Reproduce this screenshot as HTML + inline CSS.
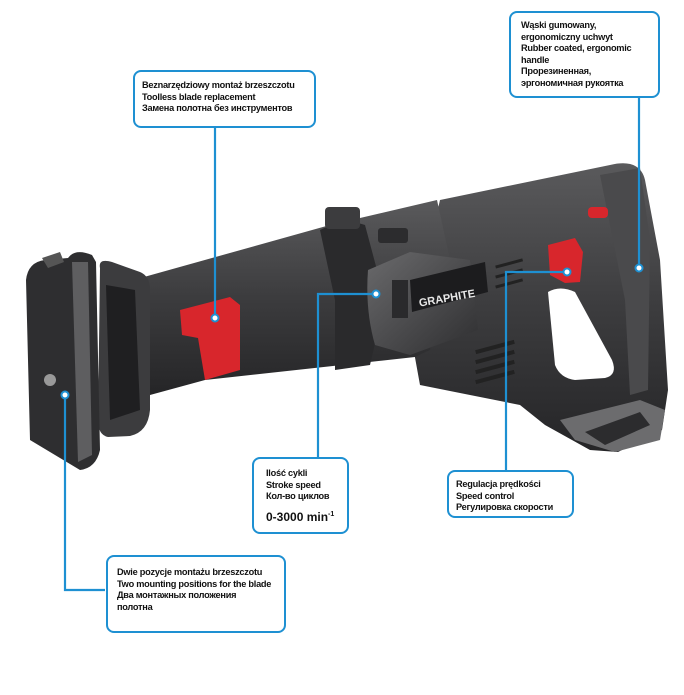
<!DOCTYPE html>
<html><head><meta charset="utf-8"><style>
html,body{margin:0;padding:0;background:#fff;}
body{width:684px;height:695px;position:relative;overflow:hidden;font-family:"Liberation Sans","DejaVu Sans",sans-serif;}
.box{position:absolute;border:2.5px solid #1e90d2;border-radius:8px;background:#fff;box-sizing:border-box;font-weight:bold;font-size:9.2px;letter-spacing:-0.25px;line-height:11.6px;color:#111;white-space:nowrap;}
svg{position:absolute;left:0;top:0;}
</style></head><body>
<svg width="684" height="695" viewBox="0 0 684 695">
<defs>
<linearGradient id="g1" x1="0" y1="0" x2="0" y2="1"><stop offset="0" stop-color="#5a5a5c"/><stop offset="0.5" stop-color="#3c3c3e"/><stop offset="1" stop-color="#252527"/></linearGradient>
<linearGradient id="g2" x1="0" y1="0" x2="1" y2="1"><stop offset="0" stop-color="#6a6a6c"/><stop offset="1" stop-color="#2e2e30"/></linearGradient>
</defs>
<path d="M440 200 L610 165 Q640 158 645 180 L660 260 L668 390 L662 430 L618 452 L590 450 L545 425 L520 405 L470 395 L420 385 L410 330 Z" fill="url(#g1)"/>
<path d="M548 292 Q560 285 575 292 L612 360 Q618 375 605 378 L575 380 Q560 378 555 365 Z" fill="#fff"/>
<path d="M600 175 L640 168 L650 240 L648 390 L630 395 L625 300 Z" fill="#4a4a4c"/>
<path d="M560 420 L640 400 L665 410 L660 440 L615 452 L575 440 Z" fill="#6c6c6e"/>
<path d="M585 432 L640 412 L650 425 L605 445 Z" fill="#2c2c2e"/>
<g fill="#222">
<rect x="475" y="345" width="40" height="4" transform="rotate(-15 495 347)"/>
<rect x="475" y="355" width="40" height="4" transform="rotate(-15 495 357)"/>
<rect x="475" y="365" width="40" height="4" transform="rotate(-15 495 367)"/>
<rect x="475" y="375" width="40" height="4" transform="rotate(-15 495 377)"/>
<rect x="495" y="262" width="28" height="3" transform="rotate(-15 509 263)"/>
<rect x="495" y="272" width="28" height="3" transform="rotate(-15 509 273)"/>
<rect x="495" y="282" width="28" height="3" transform="rotate(-15 509 283)"/>
</g>
<path d="M144 277 L330 225 L437 200 L450 260 L430 350 L415 357 L205 380 L150 395 Z" fill="url(#g1)"/>
<path d="M320 230 Q345 218 365 225 L385 300 L370 365 L335 370 L335 300 Z" fill="#2a2a2c"/>
<rect x="325" y="207" width="35" height="22" rx="4" fill="#3c3c3e"/>
<rect x="378" y="228" width="30" height="15" rx="3" fill="#2c2c2e"/>
<path d="M368 270 L410 252 L470 260 L478 330 L410 355 L375 345 Q365 310 368 270 Z" fill="url(#g2)"/>
<rect x="392" y="280" width="16" height="38" fill="#2a2a2c"/>
<path d="M410 280 L485 262 L488 292 L412 312 Z" fill="#1c1c1e"/>
<text x="418" y="302" transform="rotate(-10 445 295)" font-family="Liberation Sans,sans-serif" font-weight="bold" font-size="11" fill="#e8e8e8">GRAPHITE</text>
<path d="M180 310 L230 297 L240 305 L240 370 L205 380 L198 338 L182 335 Z" fill="#d8262c"/>
<path d="M548 245 L575 238 L583 252 L580 282 L565 283 L550 275 Z" fill="#d8262c"/>
<rect x="588" y="207" width="20" height="11" rx="4" fill="#d8262c"/>
<path d="M100 268 Q98 258 112 262 L140 272 Q150 276 150 290 L150 410 Q148 432 130 436 L108 437 Q98 435 98 420 Z" fill="#3c3c3e"/>
<path d="M106 285 L135 290 L140 410 L110 420 Z" fill="#1f1f21"/>
<path d="M68 258 Q75 248 92 255 L96 262 L100 450 Q96 468 80 470 L30 440 L26 280 Q28 262 45 260 Z" fill="#2e2e30"/>
<path d="M42 258 L60 252 L64 262 L48 268 Z" fill="#555"/>
<path d="M72 262 L88 262 L92 455 L78 462 Z" fill="#5e5e60"/>
<circle cx="50" cy="380" r="6" fill="#999"/>
<g stroke="#1e90d2" stroke-width="2.2" fill="none">
<path d="M215 127 V318"/>
<path d="M639 97 V268"/>
<path d="M376 294 H318 V457"/>
<path d="M567 272 H506 V470"/>
<path d="M65 395 V590 H105"/>
</g>
<g fill="#fff" stroke="#1e90d2" stroke-width="2">
<circle cx="215" cy="318" r="3.5"/>
<circle cx="376" cy="294" r="3.5"/>
<circle cx="567" cy="272" r="3.5"/>
<circle cx="639" cy="268" r="3.5"/>
<circle cx="65" cy="395" r="3.5"/>
</g>
</svg>
<div class="box" style="left:133px;top:70px;width:183px;height:58px;padding:8px 0 0 7px;">Beznarzędziowy montaż brzeszczotu<br>Toolless blade replacement<br>Замена полотна без инструментов</div>
<div class="box" style="left:509px;top:11px;width:151px;height:87px;padding:7px 0 0 10px;">Wąski gumowany,<br>ergonomiczny uchwyt<br>Rubber coated, ergonomic<br>handle<br>Прорезиненная,<br>эргономичная рукоятка</div>
<div class="box" style="left:252px;top:457px;width:97px;height:77px;padding:9px 0 0 12px;">Ilość cykli<br>Stroke speed<br>Кол-во циклов<div style="font-size:12px;margin-top:6px;letter-spacing:0;">0-3000 min<sup style="font-size:7px;">-1</sup></div></div>
<div class="box" style="left:447px;top:470px;width:127px;height:48px;padding:7px 0 0 7px;">Regulacja prędkości<br>Speed control<br>Регулировка скорости</div>
<div class="box" style="left:106px;top:555px;width:180px;height:78px;padding:10px 0 0 9px;">Dwie pozycje montażu brzeszczotu<br>Two mounting positions for the blade<br>Два монтажных положения<br>полотна</div>
</body></html>
